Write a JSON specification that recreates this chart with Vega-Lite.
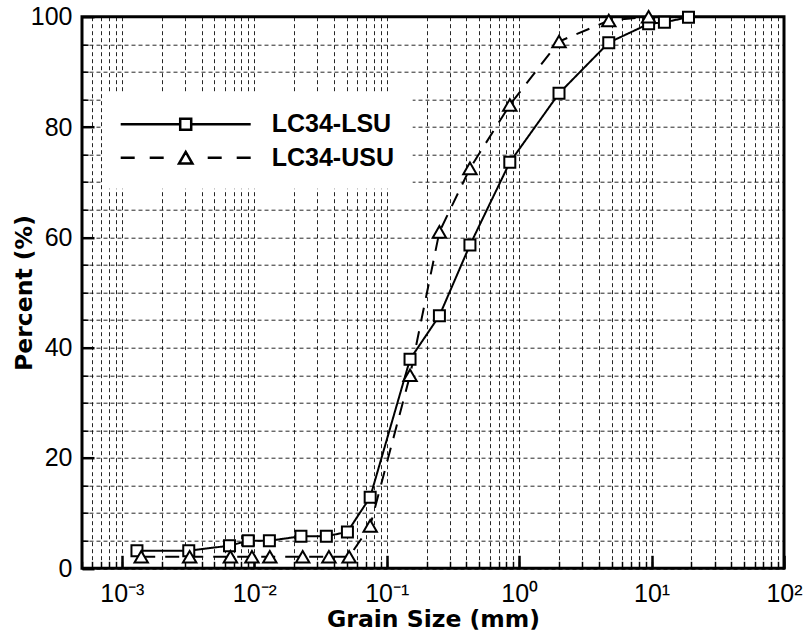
{
  "$schema": "https://vega.github.io/schema/vega-lite/v6.json",
  "width": 702,
  "height": 551.6,
  "autosize": {"type": "none"},
  "padding": {"left": 82, "top": 16.7, "right": 20, "bottom": 70.7},
  "background": "white",
  "config": {"view": {"stroke": "black", "strokeWidth": 3}},
  "data": {"values": [
    {"sample": "LC34-LSU", "grain": 0.0013, "percent": 3.2},
    {"sample": "LC34-LSU", "grain": 0.0032, "percent": 3.2},
    {"sample": "LC34-LSU", "grain": 0.0065, "percent": 4.1},
    {"sample": "LC34-LSU", "grain": 0.009, "percent": 5.0},
    {"sample": "LC34-LSU", "grain": 0.013, "percent": 5.0},
    {"sample": "LC34-LSU", "grain": 0.0225, "percent": 5.8},
    {"sample": "LC34-LSU", "grain": 0.035, "percent": 5.8},
    {"sample": "LC34-LSU", "grain": 0.0505, "percent": 6.6},
    {"sample": "LC34-LSU", "grain": 0.075, "percent": 12.9},
    {"sample": "LC34-LSU", "grain": 0.15, "percent": 37.9},
    {"sample": "LC34-LSU", "grain": 0.25, "percent": 45.8},
    {"sample": "LC34-LSU", "grain": 0.425, "percent": 58.6},
    {"sample": "LC34-LSU", "grain": 0.85, "percent": 73.6},
    {"sample": "LC34-LSU", "grain": 2.0, "percent": 86.1},
    {"sample": "LC34-LSU", "grain": 4.75, "percent": 95.3},
    {"sample": "LC34-LSU", "grain": 9.5, "percent": 98.7},
    {"sample": "LC34-LSU", "grain": 12.5, "percent": 99.0},
    {"sample": "LC34-LSU", "grain": 19.0, "percent": 99.9},
    {"sample": "LC34-USU", "grain": 0.0014, "percent": 2.1},
    {"sample": "LC34-USU", "grain": 0.00325, "percent": 2.1},
    {"sample": "LC34-USU", "grain": 0.0066, "percent": 2.1},
    {"sample": "LC34-USU", "grain": 0.0096, "percent": 2.1},
    {"sample": "LC34-USU", "grain": 0.0131, "percent": 2.1},
    {"sample": "LC34-USU", "grain": 0.0232, "percent": 2.1},
    {"sample": "LC34-USU", "grain": 0.0366, "percent": 2.1},
    {"sample": "LC34-USU", "grain": 0.052, "percent": 2.1},
    {"sample": "LC34-USU", "grain": 0.075, "percent": 7.7},
    {"sample": "LC34-USU", "grain": 0.15, "percent": 35.0},
    {"sample": "LC34-USU", "grain": 0.25, "percent": 61.0},
    {"sample": "LC34-USU", "grain": 0.425, "percent": 72.5},
    {"sample": "LC34-USU", "grain": 0.85, "percent": 84.0},
    {"sample": "LC34-USU", "grain": 2.0, "percent": 95.5},
    {"sample": "LC34-USU", "grain": 4.75, "percent": 99.3},
    {"sample": "LC34-USU", "grain": 9.5, "percent": 100}
  ]},
  "resolve": {"axis": {"x": "independent", "y": "independent"}, "scale": {"shape": "independent"}},
  "layer": [
    {
      "mark": {"type": "line", "strokeWidth": 2, "color": "black"},
      "encoding": {
        "x": {
          "field": "grain", "type": "quantitative",
          "scale": {"type": "log", "domain": [0.0005, 100], "nice": false},
          "axis": {
            "orient": "bottom",
            "values": [0.0005, 0.0006, 0.0007, 0.0008, 0.0009, 0.001, 0.002, 0.003, 0.004, 0.005, 0.006, 0.007, 0.008, 0.009, 0.01, 0.02, 0.03, 0.04, 0.05, 0.06, 0.07, 0.08, 0.09, 0.1, 0.2, 0.3, 0.4, 0.5, 0.6, 0.7, 0.8, 0.9, 1, 2, 3, 4, 5, 6, 7, 8, 9, 10, 20, 30, 40, 50, 60, 70, 80, 90, 100],
            "labels": false, "title": null, "domain": false,
            "grid": true, "gridColor": "black", "gridWidth": 1, "gridDash": [4, 3], "gridOpacity": 0.85,
            "ticks": true, "tickSize": -7, "tickColor": "black", "tickWidth": 1.5
          }
        },
        "y": {
          "field": "percent", "type": "quantitative",
          "scale": {"domain": [0, 100], "nice": false},
          "axis": {
            "orient": "left",
            "values": [0, 5, 10, 15, 20, 25, 30, 35, 40, 45, 50, 55, 60, 65, 70, 75, 80, 85, 90, 95, 100],
            "labels": false, "title": null, "domain": false,
            "grid": true, "gridColor": "black", "gridWidth": 1, "gridDash": [4, 3], "gridOpacity": 0.85,
            "ticks": true, "tickSize": -6, "tickColor": "black", "tickWidth": 1.5
          }
        },
        "strokeDash": {
          "field": "sample", "type": "nominal",
          "scale": {"range": [[1, 0], [14, 10]]},
          "legend": null
        }
      }
    },
    {
      "mark": {"type": "point", "filled": true, "fill": "white", "stroke": "black", "strokeWidth": 2, "opacity": 1},
      "encoding": {
        "x": {
          "field": "grain", "type": "quantitative",
          "scale": {"type": "log", "domain": [0.0005, 100], "nice": false},
          "axis": {
            "orient": "bottom",
            "values": [0.001, 0.01, 0.1, 1, 10, 100],
            "labelExpr": "datum.value == 0.001 ? '10⁻³' : datum.value == 0.01 ? '10⁻²' : datum.value == 0.1 ? '10⁻¹' : datum.value == 1 ? '10⁰' : datum.value == 10 ? '10¹' : '10²'",
            "grid": false, "domain": false,
            "ticks": true, "tickSize": -13, "tickColor": "black", "tickWidth": 2.5,
            "labelPadding": 46.4, "labelBaseline": "alphabetic",
            "labelFont": "Liberation Sans", "labelFontSize": 25, "labelColor": "black",
            "labelFlush": false, "labelOverlap": false,
            "title": "Grain Size (mm)", "titleFont": "DejaVu Sans", "titleFontSize": 23.5,
            "titleFontWeight": "bold", "titleColor": "black", "titleBaseline": "alphabetic", "titleY": 58.4
          }
        },
        "y": {
          "field": "percent", "type": "quantitative",
          "scale": {"domain": [0, 100], "nice": false},
          "axis": {
            "orient": "left",
            "values": [0, 20, 40, 60, 80, 100],
            "grid": false, "domain": false,
            "ticks": true, "tickSize": -12, "tickColor": "black", "tickWidth": 2.5,
            "labelPadding": 22,
            "labelFont": "Liberation Sans", "labelFontSize": 25, "labelColor": "black",
            "labelFlush": false, "labelOverlap": false,
            "title": "Percent (%)", "titleFont": "DejaVu Sans", "titleFontSize": 23.5,
            "titleFontWeight": "bold", "titleColor": "black", "titleBaseline": "alphabetic", "titleX": -50.3
          }
        },
        "shape": {
          "field": "sample", "type": "nominal",
          "scale": {"range": ["square", "triangle-up"]},
          "legend": null
        },
        "size": {
          "field": "sample", "type": "nominal",
          "scale": {"range": [121, 180]},
          "legend": null
        }
      }
    },
    {
      "mark": {"type": "point", "filled": false, "stroke": "black", "strokeWidth": 2, "opacity": 0, "size": 100},
      "encoding": {
        "x": {"field": "grain", "type": "quantitative", "axis": null},
        "y": {"field": "percent", "type": "quantitative", "axis": null},
        "shape": {
          "field": "sample", "type": "nominal",
          "scale": {
            "domain": ["LC34-LSU", "LC34-USU"],
            "range": [
              "M-2.5,0H9.4M11.6,0H23.5M9.4,-1.1H11.6V1.1H9.4Z",
              "M-2.5,0H0.3M3.3,0H6.1M14.9,0H17.7M20.7,0H23.5M10.5,-1.16L11.84,1.16H9.16Z"
            ]
          },
          "legend": {
            "orient": "none", "legendX": 20.7, "legendY": 77,
            "title": null, "fillColor": "white", "padding": 18,
            "symbolOffset": 0, "labelOffset": 126, "rowPadding": 7.5,
            "labelFont": "Liberation Sans", "labelFontSize": 25, "labelFontWeight": "bold", "labelColor": "black",
            "symbolOpacity": 1, "symbolStrokeWidth": 2.5,
            "encode": {
              "symbols": {
                "stroke": {"value": "black"},
                "strokeWidth": {"value": 2.5},
                "strokeOpacity": {"value": 1},
                "opacity": {"value": 1}
              }
            }
          }
        }
      }
    }
  ]
}
